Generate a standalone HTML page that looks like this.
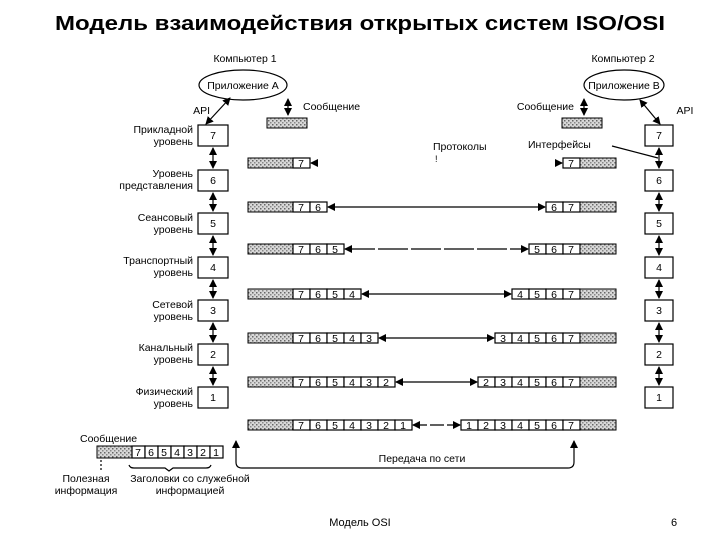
<!DOCTYPE html>
<html><head><meta charset="utf-8"><style>
body{margin:0;background:#fff;width:720px;height:540px;overflow:hidden}
svg{display:block}
text{font-family:"Liberation Sans",sans-serif;fill:#000}
.l{font-size:10.5px;text-anchor:end}
.c{font-size:10.5px;text-anchor:middle}
.b{fill:#fff;stroke:#000;stroke-width:1.2}
.h{fill:url(#dots);stroke:#000;stroke-width:1}
.ln{stroke:#000;stroke-width:1.2;fill:none}
</style></head><body>
<svg width="720" height="540" viewBox="0 0 720 540">
<defs>
<pattern id="dots" width="4" height="4" patternUnits="userSpaceOnUse">
<rect width="4" height="4" fill="#d8d8d8"/><rect x="0" y="0" width="1.5" height="1.5" fill="#666"/><rect x="2" y="2" width="1.5" height="1.5" fill="#888"/>
</pattern>
<marker id="a" markerWidth="8" markerHeight="8" refX="7" refY="4" orient="auto-start-reverse" markerUnits="userSpaceOnUse"><path d="M0,0 L8,4 L0,8 z" fill="#000"/></marker>
</defs>
<text x="360" y="30" style="font-size:20px;font-weight:bold;text-anchor:middle" textLength="610" lengthAdjust="spacingAndGlyphs">Модель взаимодействия открытых систем ISO/OSI</text>

<text class="c" x="245" y="62">Компьютер 1</text>
<ellipse cx="243" cy="85" rx="44" ry="15" class="ln"/>
<text class="c" x="243" y="89">Приложение А</text>
<text class="c" x="623" y="62">Компьютер 2</text>
<ellipse cx="624" cy="85" rx="40" ry="15" class="ln"/>
<text class="c" x="624" y="89">Приложение В</text>

<text class="l" x="210" y="114">API</text>
<line x1="230" y1="98" x2="206" y2="124" class="ln" marker-end="url(#a)" marker-start="url(#a)"/>
<text class="c" x="685" y="114">API</text>
<line x1="640" y1="100" x2="660" y2="124" class="ln" marker-end="url(#a)" marker-start="url(#a)"/>

<line x1="288" y1="99" x2="288" y2="115" class="ln" marker-end="url(#a)" marker-start="url(#a)"/>
<text x="303" y="110" style="font-size:10.5px">Сообщение</text>
<rect x="267" y="118" width="40" height="10" class="h"/>
<line x1="584" y1="99" x2="584" y2="115" class="ln" marker-end="url(#a)" marker-start="url(#a)"/>
<text class="l" x="574" y="110">Сообщение</text>
<rect x="562" y="118" width="40" height="10" class="h"/>

<text x="433" y="150" style="font-size:10.5px">Протоколы</text>
<text x="435" y="162" style="font-size:9px">!</text>
<text x="528" y="148" style="font-size:10.5px">Интерфейсы</text>
<line x1="612" y1="146" x2="658" y2="158" class="ln"/>

<g>
<rect x="198" y="125" width="30" height="21" class="b"/><text class="c" x="213" y="139">7</text>
<rect x="198" y="170" width="30" height="21" class="b"/><text class="c" x="213" y="184">6</text>
<rect x="198" y="213" width="30" height="21" class="b"/><text class="c" x="213" y="227">5</text>
<rect x="198" y="257" width="30" height="21" class="b"/><text class="c" x="213" y="271">4</text>
<rect x="198" y="300" width="30" height="21" class="b"/><text class="c" x="213" y="314">3</text>
<rect x="198" y="344" width="30" height="21" class="b"/><text class="c" x="213" y="358">2</text>
<rect x="198" y="387" width="30" height="21" class="b"/><text class="c" x="213" y="401">1</text>
<line x1="213" y1="148" x2="213" y2="168" class="ln" marker-end="url(#a)" marker-start="url(#a)"/>
<line x1="213" y1="193" x2="213" y2="211" class="ln" marker-end="url(#a)" marker-start="url(#a)"/>
<line x1="213" y1="236" x2="213" y2="255" class="ln" marker-end="url(#a)" marker-start="url(#a)"/>
<line x1="213" y1="280" x2="213" y2="298" class="ln" marker-end="url(#a)" marker-start="url(#a)"/>
<line x1="213" y1="323" x2="213" y2="342" class="ln" marker-end="url(#a)" marker-start="url(#a)"/>
<line x1="213" y1="367" x2="213" y2="385" class="ln" marker-end="url(#a)" marker-start="url(#a)"/>
</g>
<text class="l" x="193" y="133">Прикладной</text><text class="l" x="193" y="145">уровень</text>
<text class="l" x="193" y="177">Уровень</text><text class="l" x="193" y="189">представления</text>
<text class="l" x="193" y="221">Сеансовый</text><text class="l" x="193" y="233">уровень</text>
<text class="l" x="193" y="264">Транспортный</text><text class="l" x="193" y="276">уровень</text>
<text class="l" x="193" y="308">Сетевой</text><text class="l" x="193" y="320">уровень</text>
<text class="l" x="193" y="351">Канальный</text><text class="l" x="193" y="363">уровень</text>
<text class="l" x="193" y="395">Физический</text><text class="l" x="193" y="407">уровень</text>

<g>
<rect x="645" y="125" width="28" height="21" class="b"/><text class="c" x="659" y="139">7</text>
<rect x="645" y="170" width="28" height="21" class="b"/><text class="c" x="659" y="184">6</text>
<rect x="645" y="213" width="28" height="21" class="b"/><text class="c" x="659" y="227">5</text>
<rect x="645" y="257" width="28" height="21" class="b"/><text class="c" x="659" y="271">4</text>
<rect x="645" y="300" width="28" height="21" class="b"/><text class="c" x="659" y="314">3</text>
<rect x="645" y="344" width="28" height="21" class="b"/><text class="c" x="659" y="358">2</text>
<rect x="645" y="387" width="28" height="21" class="b"/><text class="c" x="659" y="401">1</text>
<line x1="659" y1="148" x2="659" y2="168" class="ln" marker-end="url(#a)" marker-start="url(#a)"/>
<line x1="659" y1="193" x2="659" y2="211" class="ln" marker-end="url(#a)" marker-start="url(#a)"/>
<line x1="659" y1="236" x2="659" y2="255" class="ln" marker-end="url(#a)" marker-start="url(#a)"/>
<line x1="659" y1="280" x2="659" y2="298" class="ln" marker-end="url(#a)" marker-start="url(#a)"/>
<line x1="659" y1="323" x2="659" y2="342" class="ln" marker-end="url(#a)" marker-start="url(#a)"/>
<line x1="659" y1="367" x2="659" y2="385" class="ln" marker-end="url(#a)" marker-start="url(#a)"/>
</g>

<g font-size="10">
<rect x="248" y="158" width="45" height="10" class="h"/>
<rect x="293" y="158" width="17" height="10" class="b"/><text class="c" x="301" y="167">7</text>
<line x1="318" y1="163" x2="311" y2="163" class="ln" marker-end="url(#a)"/>
<rect x="563" y="158" width="17" height="10" class="b"/><text class="c" x="571" y="167">7</text>
<rect x="580" y="158" width="36" height="10" class="h"/>
<line x1="555" y1="163" x2="562" y2="163" class="ln" marker-end="url(#a)"/>

<rect x="248" y="202" width="45" height="10" class="h"/>
<rect x="293" y="202" width="17" height="10" class="b"/><text class="c" x="301" y="211">7</text>
<rect x="310" y="202" width="17" height="10" class="b"/><text class="c" x="318" y="211">6</text>
<line x1="328" y1="207" x2="545" y2="207" class="ln" marker-end="url(#a)" marker-start="url(#a)"/>
<rect x="546" y="202" width="17" height="10" class="b"/><text class="c" x="554" y="211">6</text>
<rect x="563" y="202" width="17" height="10" class="b"/><text class="c" x="571" y="211">7</text>
<rect x="580" y="202" width="36" height="10" class="h"/>

<rect x="248" y="244" width="45" height="10" class="h"/>
<rect x="293" y="244" width="17" height="10" class="b"/><text class="c" x="301" y="253">7</text>
<rect x="310" y="244" width="17" height="10" class="b"/><text class="c" x="318" y="253">6</text>
<rect x="327" y="244" width="17" height="10" class="b"/><text class="c" x="335" y="253">5</text>
<line x1="345" y1="249" x2="528" y2="249" class="ln" marker-end="url(#a)" marker-start="url(#a)" stroke-dasharray="30,3"/>
<rect x="529" y="244" width="17" height="10" class="b"/><text class="c" x="537" y="253">5</text>
<rect x="546" y="244" width="17" height="10" class="b"/><text class="c" x="554" y="253">6</text>
<rect x="563" y="244" width="17" height="10" class="b"/><text class="c" x="571" y="253">7</text>
<rect x="580" y="244" width="36" height="10" class="h"/>

<rect x="248" y="289" width="45" height="10" class="h"/>
<rect x="293" y="289" width="17" height="10" class="b"/><text class="c" x="301" y="298">7</text>
<rect x="310" y="289" width="17" height="10" class="b"/><text class="c" x="318" y="298">6</text>
<rect x="327" y="289" width="17" height="10" class="b"/><text class="c" x="335" y="298">5</text>
<rect x="344" y="289" width="17" height="10" class="b"/><text class="c" x="352" y="298">4</text>
<line x1="362" y1="294" x2="511" y2="294" class="ln" marker-end="url(#a)" marker-start="url(#a)"/>
<rect x="512" y="289" width="17" height="10" class="b"/><text class="c" x="520" y="298">4</text>
<rect x="529" y="289" width="17" height="10" class="b"/><text class="c" x="537" y="298">5</text>
<rect x="546" y="289" width="17" height="10" class="b"/><text class="c" x="554" y="298">6</text>
<rect x="563" y="289" width="17" height="10" class="b"/><text class="c" x="571" y="298">7</text>
<rect x="580" y="289" width="36" height="10" class="h"/>

<rect x="248" y="333" width="45" height="10" class="h"/>
<rect x="293" y="333" width="17" height="10" class="b"/><text class="c" x="301" y="342">7</text>
<rect x="310" y="333" width="17" height="10" class="b"/><text class="c" x="318" y="342">6</text>
<rect x="327" y="333" width="17" height="10" class="b"/><text class="c" x="335" y="342">5</text>
<rect x="344" y="333" width="17" height="10" class="b"/><text class="c" x="352" y="342">4</text>
<rect x="361" y="333" width="17" height="10" class="b"/><text class="c" x="369" y="342">3</text>
<line x1="379" y1="338" x2="494" y2="338" class="ln" marker-end="url(#a)" marker-start="url(#a)"/>
<rect x="495" y="333" width="17" height="10" class="b"/><text class="c" x="503" y="342">3</text>
<rect x="512" y="333" width="17" height="10" class="b"/><text class="c" x="520" y="342">4</text>
<rect x="529" y="333" width="17" height="10" class="b"/><text class="c" x="537" y="342">5</text>
<rect x="546" y="333" width="17" height="10" class="b"/><text class="c" x="554" y="342">6</text>
<rect x="563" y="333" width="17" height="10" class="b"/><text class="c" x="571" y="342">7</text>
<rect x="580" y="333" width="36" height="10" class="h"/>

<rect x="248" y="377" width="45" height="10" class="h"/>
<rect x="293" y="377" width="17" height="10" class="b"/><text class="c" x="301" y="386">7</text>
<rect x="310" y="377" width="17" height="10" class="b"/><text class="c" x="318" y="386">6</text>
<rect x="327" y="377" width="17" height="10" class="b"/><text class="c" x="335" y="386">5</text>
<rect x="344" y="377" width="17" height="10" class="b"/><text class="c" x="352" y="386">4</text>
<rect x="361" y="377" width="17" height="10" class="b"/><text class="c" x="369" y="386">3</text>
<rect x="378" y="377" width="17" height="10" class="b"/><text class="c" x="386" y="386">2</text>
<line x1="396" y1="382" x2="477" y2="382" class="ln" marker-end="url(#a)" marker-start="url(#a)"/>
<rect x="478" y="377" width="17" height="10" class="b"/><text class="c" x="486" y="386">2</text>
<rect x="495" y="377" width="17" height="10" class="b"/><text class="c" x="503" y="386">3</text>
<rect x="512" y="377" width="17" height="10" class="b"/><text class="c" x="520" y="386">4</text>
<rect x="529" y="377" width="17" height="10" class="b"/><text class="c" x="537" y="386">5</text>
<rect x="546" y="377" width="17" height="10" class="b"/><text class="c" x="554" y="386">6</text>
<rect x="563" y="377" width="17" height="10" class="b"/><text class="c" x="571" y="386">7</text>
<rect x="580" y="377" width="36" height="10" class="h"/>

<rect x="248" y="420" width="45" height="10" class="h"/>
<rect x="293" y="420" width="17" height="10" class="b"/><text class="c" x="301" y="429">7</text>
<rect x="310" y="420" width="17" height="10" class="b"/><text class="c" x="318" y="429">6</text>
<rect x="327" y="420" width="17" height="10" class="b"/><text class="c" x="335" y="429">5</text>
<rect x="344" y="420" width="17" height="10" class="b"/><text class="c" x="352" y="429">4</text>
<rect x="361" y="420" width="17" height="10" class="b"/><text class="c" x="369" y="429">3</text>
<rect x="378" y="420" width="17" height="10" class="b"/><text class="c" x="386" y="429">2</text>
<rect x="395" y="420" width="17" height="10" class="b"/><text class="c" x="403" y="429">1</text>
<line x1="413" y1="425" x2="460" y2="425" class="ln" marker-end="url(#a)" marker-start="url(#a)" stroke-dasharray="14,3"/>
<rect x="461" y="420" width="17" height="10" class="b"/><text class="c" x="469" y="429">1</text>
<rect x="478" y="420" width="17" height="10" class="b"/><text class="c" x="486" y="429">2</text>
<rect x="495" y="420" width="17" height="10" class="b"/><text class="c" x="503" y="429">3</text>
<rect x="512" y="420" width="17" height="10" class="b"/><text class="c" x="520" y="429">4</text>
<rect x="529" y="420" width="17" height="10" class="b"/><text class="c" x="537" y="429">5</text>
<rect x="546" y="420" width="17" height="10" class="b"/><text class="c" x="554" y="429">6</text>
<rect x="563" y="420" width="17" height="10" class="b"/><text class="c" x="571" y="429">7</text>
<rect x="580" y="420" width="36" height="10" class="h"/>
</g>

<path d="M236,441 L236,462 Q236,468 242,468 L568,468 Q574,468 574,462 L574,441" class="ln"/>
<path d="M232,448 L236,440 L240,448 z"/><path d="M570,448 L574,440 L578,448 z"/>
<text class="c" x="422" y="462">Передача по сети</text>

<text x="80" y="442" style="font-size:10.5px">Сообщение</text>
<rect x="97" y="446" width="35" height="12" class="h"/>
<rect x="132" y="446" width="13" height="12" class="b"/><text class="c" x="138" y="456">7</text>
<rect x="145" y="446" width="13" height="12" class="b"/><text class="c" x="151" y="456">6</text>
<rect x="158" y="446" width="13" height="12" class="b"/><text class="c" x="164" y="456">5</text>
<rect x="171" y="446" width="13" height="12" class="b"/><text class="c" x="177" y="456">4</text>
<rect x="184" y="446" width="13" height="12" class="b"/><text class="c" x="190" y="456">3</text>
<rect x="197" y="446" width="13" height="12" class="b"/><text class="c" x="203" y="456">2</text>
<rect x="210" y="446" width="13" height="12" class="b"/><text class="c" x="216" y="456">1</text>
<line x1="101" y1="460" x2="101" y2="470" class="ln" stroke-dasharray="2,2"/>
<path d="M129,465 Q130,468 134,468 L165,468 L169,471 L173,468 L206,468 Q210,468 211,465" class="ln"/>
<text class="c" x="86" y="482">Полезная</text><text class="c" x="86" y="494">информация</text>
<text class="c" x="190" y="482">Заголовки со служебной</text><text class="c" x="190" y="494">информацией</text>

<text class="c" x="360" y="526" style="font-size:11px">Модель OSI</text>
<text class="c" x="674" y="526" style="font-size:11px">6</text>
</svg>
</body></html>
